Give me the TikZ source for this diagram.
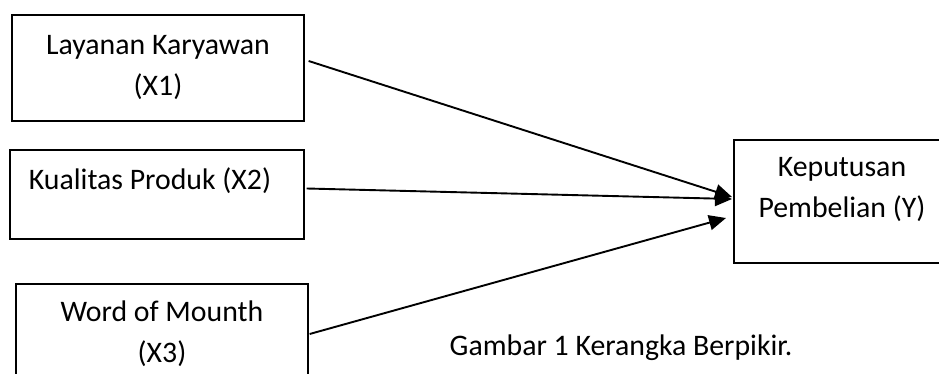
\documentclass[tikz,border=0pt]{standalone}
\usepackage{fontspec}
\setmainfont{Carlito}
\usetikzlibrary{arrows.meta}
\tikzset{
  box/.style={draw=black, line width=1.3pt, rectangle, inner sep=0pt},
  lab/.style={font=\fontsize{29.8}{41}\selectfont, align=center, inner sep=0pt},
  link/.style={draw=black, line width=1.9pt, -{Triangle[length=17pt,width=15pt]}}
}
\begin{document}
\begin{tikzpicture}[x=1pt, y=-1pt, line join=miter]
  \useasboundingbox (0,0) rectangle (939,374);
  % boxes
  \node[box, minimum width=292, minimum height=106] (x1) at (158,68) {};
  \node[box, minimum width=294, minimum height=89] (x2) at (157,194.5) {};
  \node[box, minimum width=292, minimum height=100] (x3) at (162,334) {};
  \node[box, minimum width=216, minimum height=123] (y) at (842,201.5) {};
  % texts
  \node[lab] (x1txt) at (x1.center) {Layanan Karyawan\\(X1)};
  \node[lab] (x2txt) at ([shift={(-7,-14)}]x2.center) {Kualitas Produk (X2)};
  \node[lab] (x3txt) at (x3.center) {Word of Mounth\\(X3)};
  \node[lab] (ytxt) at ([shift={(0,-12)}]y.center) {Keputusan\\Pembelian (Y)};
  \node[lab] (cap) at (621,348) {Gambar 1 Kerangka Berpikir.};
  % arrows
  \coordinate (t1) at (732,197);
  \coordinate (t2) at (732,199);
  \coordinate (t3) at (726,218);
  \draw[link] ([shift={(4,-7)}]x1.east) -- (t1);
  \draw[link] ([shift={(2,-6)}]x2.east) -- (t2);
  \draw[link] ([shift={(1,0)}]x3.east) -- (t3);
\end{tikzpicture}
\end{document}
